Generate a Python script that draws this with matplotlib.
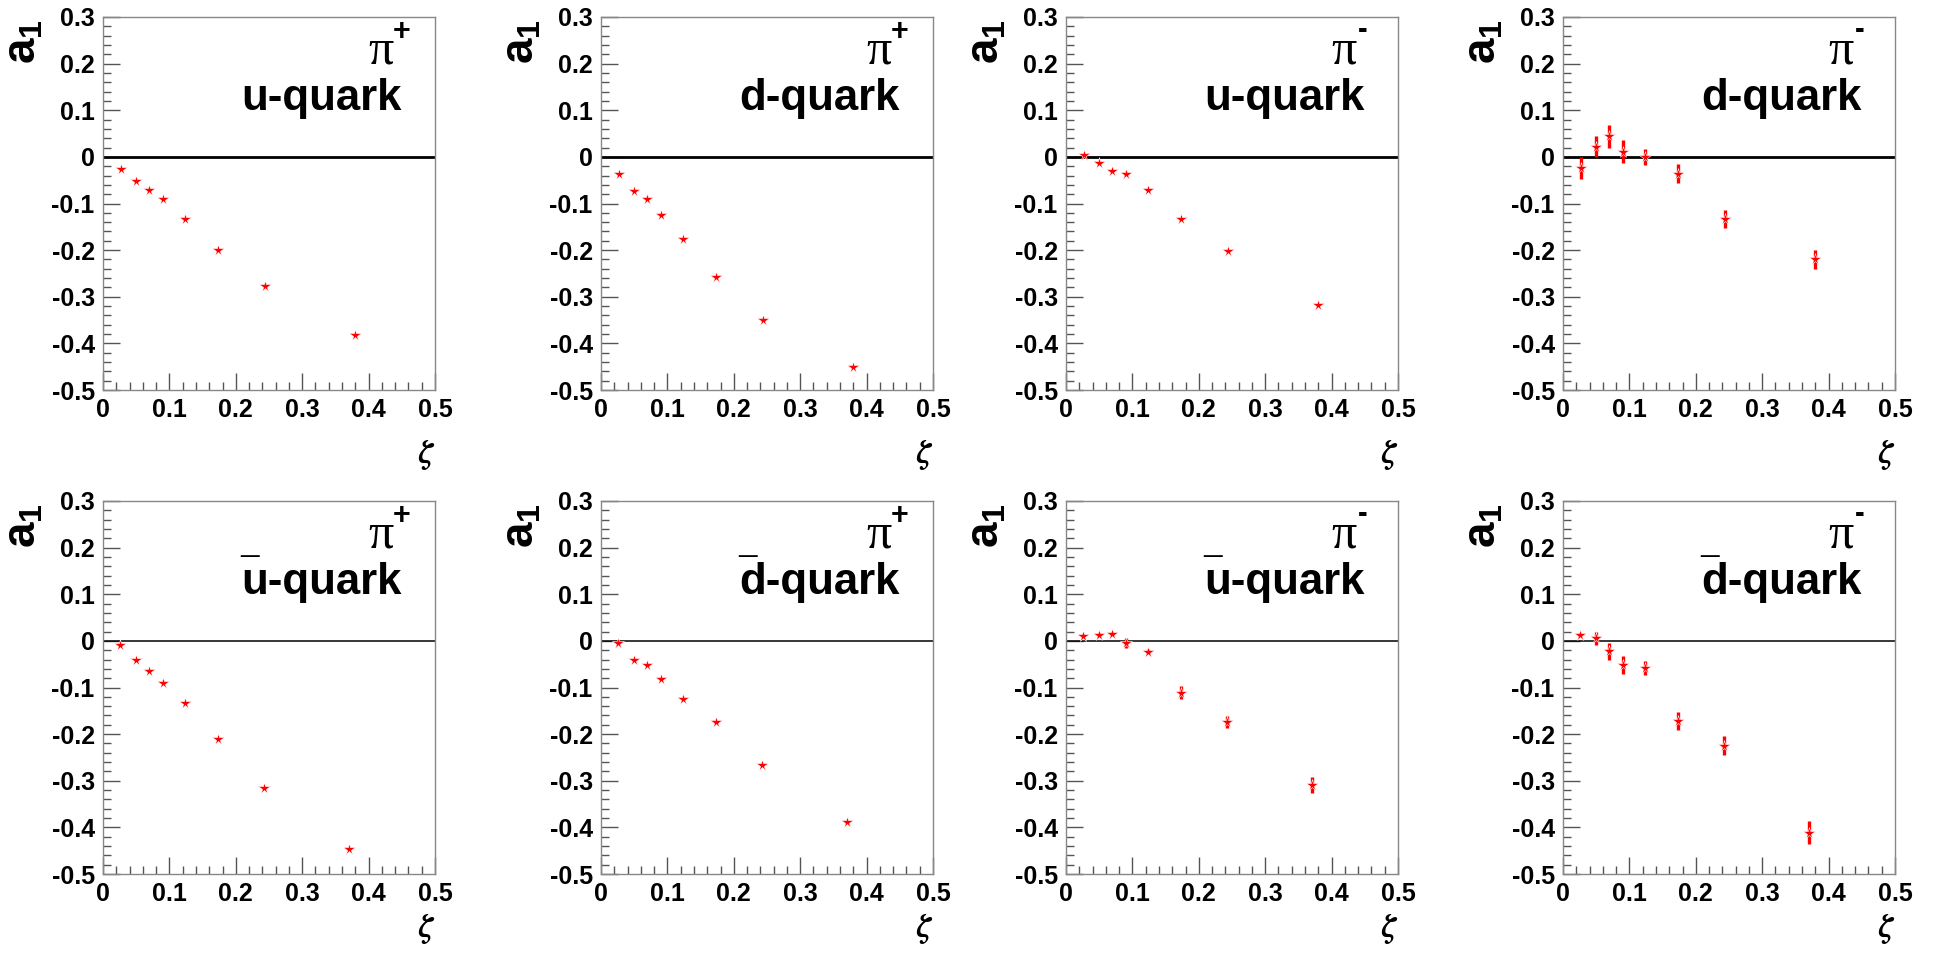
import matplotlib
matplotlib.use("Agg")
import matplotlib.pyplot as plt
from matplotlib.ticker import MultipleLocator

plt.rcParams["font.family"] = ["Liberation Sans", "DejaVu Sans"]
plt.rcParams["font.weight"] = "bold"
plt.rcParams["mathtext.fontset"] = "custom"
plt.rcParams["mathtext.rm"] = "Liberation Sans:bold"
plt.rcParams["mathtext.it"] = "Liberation Sans:bold"
plt.rcParams["mathtext.bf"] = "Liberation Sans:bold"

# zeta bins (top row / bottom row)
zeta_top = [0.027, 0.050, 0.070, 0.090, 0.124, 0.173, 0.244, 0.379]
zeta_bot = [0.026, 0.050, 0.070, 0.090, 0.123, 0.173, 0.243, 0.371]

# a1 values
pip_u = [-0.025, -0.052, -0.072, -0.091, -0.133, -0.199, -0.278, -0.382]
pip_d = [-0.036, -0.073, -0.090, -0.125, -0.177, -0.258, -0.349, -0.451]
pim_u = [0.004, -0.013, -0.030, -0.037, -0.072, -0.134, -0.201, -0.318]
pim_d = [-0.024, 0.022, 0.044, 0.011, -0.001, -0.036, -0.133, -0.220]
pim_d_err = [0.023, 0.022, 0.025, 0.025, 0.017, 0.021, 0.019, 0.020]

pip_ubar = [-0.009, -0.042, -0.064, -0.091, -0.134, -0.210, -0.316, -0.446]
pip_dbar = [-0.005, -0.042, -0.052, -0.082, -0.125, -0.175, -0.267, -0.389]
pim_ubar = [0.011, 0.012, 0.015, -0.005, -0.023, -0.111, -0.174, -0.309]
pim_ubar_err = [0.004, 0.004, 0.005, 0.011, 0.005, 0.014, 0.013, 0.017]
pim_dbar = [0.012, 0.006, -0.022, -0.052, -0.059, -0.172, -0.225, -0.411]
pim_dbar_err = [0.004, 0.014, 0.018, 0.020, 0.015, 0.020, 0.020, 0.025]

x_ticks = [0, 0.1, 0.2, 0.3, 0.4, 0.5]
x_tick_labels = ["0", "0.1", "0.2", "0.3", "0.4", "0.5"]
y_ticks = [-0.5, -0.4, -0.3, -0.2, -0.1, 0, 0.1, 0.2, 0.3]
y_tick_labels = ["-0.5", "-0.4", "-0.3", "-0.2", "-0.1", "0", "0.1", "0.2", "0.3"]

# (row, col, zeta, a1, err, pion charge, quark, antiquark)
panels = [
    (0, 0, zeta_top, pip_u, None, "+", "u", False),
    (0, 1, zeta_top, pip_d, None, "+", "d", False),
    (0, 2, zeta_top, pim_u, None, "-", "u", False),
    (0, 3, zeta_top, pim_d, pim_d_err, "-", "d", False),
    (1, 0, zeta_bot, pip_ubar, None, "+", "u", True),
    (1, 1, zeta_bot, pip_dbar, None, "+", "d", True),
    (1, 2, zeta_bot, pim_ubar, pim_ubar_err, "-", "u", True),
    (1, 3, zeta_bot, pim_dbar, pim_dbar_err, "-", "d", True),
]

W, H = 1934, 956
fig = plt.figure(figsize=(W / 100, H / 100), dpi=100)
col_left = [103, 601, 1066, 1563]
row_top = [17, 501]
aw, ah = 332, 373

for row, col, zeta, a1, err, charge, quark, anti in panels:
    ax = fig.add_axes([col_left[col] / W, 1 - (row_top[row] + ah) / H, aw / W, ah / H])
    ax.set_xlim(0, 0.5)
    ax.set_ylim(-0.5, 0.3)
    for s in ax.spines.values():
        s.set_color("#888888")
        s.set_linewidth(1.0)
    ax.axhline(0, color="black", lw=2.0 if row == 0 else 1.1, zorder=2)

    if err is not None:
        lo = [v - e for v, e in zip(a1, err)]
        hi = [v + e for v, e in zip(a1, err)]
        ax.vlines(zeta, lo, hi, colors="red", lw=2.4, zorder=3)
    ax.plot(zeta, a1, ls="none", marker="*", ms=8.5, color="red",
            mec="white", mew=0.4, zorder=4)

    ax.set_xticks(x_ticks)
    ax.set_xticklabels(x_tick_labels)
    ax.set_yticks(y_ticks)
    ax.set_yticklabels(y_tick_labels)
    ax.xaxis.set_minor_locator(MultipleLocator(0.02))
    ax.yaxis.set_minor_locator(MultipleLocator(0.02))
    ax.tick_params(which="both", direction="in", top=False, right=False,
                   color="#555555", width=1.0, labelsize=18, pad=6)
    ax.tick_params(which="major", length=12)
    ax.tick_params(which="minor", length=5.5)

    # pion label
    ax.text(0.437, 0.2, "\u03c0", family="Liberation Serif", fontweight="normal",
            fontsize=36, ha="right", va="baseline")
    if charge == "+":
        ax.text(0.437, 0.268, "+", fontsize=22, fontweight="bold",
                ha="left", va="center")
    else:
        ax.text(0.440, 0.272, "-", fontsize=21, fontweight="bold",
                ha="left", va="center")

    # quark label
    ax.text(0.45, 0.1, f"{quark}-quark", fontsize=31.5, fontweight="bold",
            ha="right", va="baseline")
    if anti:
        ax.text(0.206, 0.128, "\u00af", fontsize=24, fontweight="bold",
                ha="left", va="baseline")

    # axis labels
    ax.text(-0.172, 0.995, r"$\mathrm{a}_{1}$", math_fontfamily="custom",
            fontsize=33, rotation=90, ha="right", va="top",
            transform=ax.transAxes)
    ax.text(1.0, -0.13 if row == 0 else -0.102, r"$\zeta$", math_fontfamily="stix",
            fontsize=23, ha="right", va="top", transform=ax.transAxes)

fig.savefig("out.png", dpi=100)
